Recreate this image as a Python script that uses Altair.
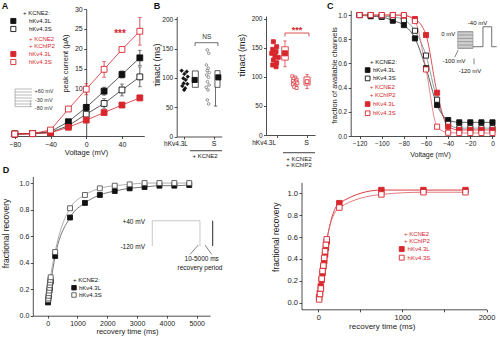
import altair as alt
import pandas as pd

FONT = "Liberation Sans"
RED = "#d7262c"
INK = "#111111"
DARK = "#333333"
GREY = "#8a8a8a"
LIGHT = "#b0b0b0"
TEAL = "#5e8f90"

# ---------------- Panel A: peak current (uA) vs voltage (mV) ----------------
A_voltage = [-80, -60, -40, -20, 0, 20, 40, 60]
A_L_kcne2 = [-1.5, -1.4, -0.9, 1.6, 5.2, 9.3, 13.5, 17.7]
A_L_kcne2_sem = [0.1, 0.1, 0.2, 0.4, 0.8, 1.0, 0.9, 1.9]
A_S_kcne2 = [-1.5, -1.4, -1.1, 0.6, 3.5, 6.2, 9.6, 12.9]
A_S_kcne2_sem = [0.1, 0.1, 0.2, 0.4, 0.7, 1.2, 1.5, 2.5]
A_L_kchip2 = [-1.5, -1.4, -1.2, 0.2, 2.0, 3.9, 5.8, 7.6]
A_L_kchip2_sem = [0.1, 0.1, 0.1, 0.2, 0.3, 0.5, 0.6, 0.7]
A_S_kchip2 = [-1.5, -1.4, -0.5, 4.8, 9.8, 14.8, 19.8, 24.4]
A_S_kchip2_sem = [0.1, 0.1, 0.3, 0.6, 1.4, 2.0, 0.4, 3.5]
A_protocol_levels = [9.84, 9.09, 8.33, 7.57, 6.82, 6.06]
A_protocol_labels = ["+60 mV", "-30 mV", "-80 mV"]

# ---------------- Panel B: tau inact (ms) ----------------
B1_L_pos = [0.44, 0.89, 0.68, 0.98, 0.59, 0.80, 0.62, 0.95, 0.50, 0.75, 0.66]
B1_L_tau = [112.5, 110.8, 106.8, 102.2, 99.5, 96.6, 90.9, 89.7, 86.3, 82.4, 79.5]
B1_S_pos = [2.72, 2.85, 2.64, 2.80, 2.70, 2.90, 2.66, 2.82, 2.74, 2.88, 2.62, 2.78, 2.72, 2.84]
B1_S_tau = [147.9, 142.2, 122.2, 116.6, 112.5, 109.1, 105.1, 101.2, 93.7, 88.0, 84.1, 79.5, 62.4, 55.6]
B1_box_x1 = [1.39, 3.40]
B1_box_x2 = [1.92, 3.85]
B1_box_q1 = [84, 84]
B1_box_q3 = [112, 112.5]
B1_mean_pos = [1.60, 3.70]
B1_mean_tau = [96.6, 101.0]

B2_L_pos = [0.60, 0.87, 0.55, 0.82, 0.47, 0.73, 1.00, 0.60, 0.87, 0.55, 0.82]
B2_L_tau = [160.7, 152.1, 147.6, 143.5, 140.7, 136.1, 133.8, 129.2, 124.5, 120.6, 117.6]
B2_S_pos = [2.15, 2.40, 2.25, 2.50, 2.20, 2.45, 2.30, 2.55, 2.20, 2.40, 2.30, 2.50]
B2_S_tau = [101, 99, 97, 95, 93, 92, 90, 89, 87, 85, 83, 81]
B2_box_x1 = [1.28, 3.10]
B2_box_x2 = [1.82, 3.60]
B2_box_q1 = [129, 86]
B2_box_q3 = [152, 100]
B2_whisk_lo = [117.6, 80]
B2_whisk_hi = [162, 104]
B2_mean_tau = [140.7, 92]

# ---------------- Panel C: fraction of available channels ----------------
C_voltage = [-120, -110, -100, -90, -80, -70, -60, -50, -40, -30, -20, -10, 0]
C_L_kcne2 = [1.0, 0.99, 0.985, 0.953, 0.917, 0.807, 0.56, 0.256, 0.132, 0.113, 0.113, 0.113, 0.113]
C_S_kcne2 = [1.0, 1.0, 0.99, 0.985, 0.96, 0.87, 0.665, 0.30, 0.10, 0.065, 0.065, 0.065, 0.065]
C_L_kchip2 = [1.0, 1.0, 1.0, 1.0, 0.995, 0.967, 0.835, 0.358, 0.077, 0.05, 0.05, 0.05, 0.05]
C_S_kchip2 = [1.0, 1.0, 1.0, 1.0, 1.0, 0.95, 0.55, 0.077, 0.027, 0.025, 0.025, 0.025, 0.025]
C_protocol_levels = [0.862, 0.835, 0.807, 0.780, 0.752, 0.725]

# ---------------- Panel D: fractional recovery ----------------
D1_time = [10, 20, 30, 40, 50, 60, 70, 80, 90, 100, 250, 750, 1250, 1750, 2250, 2750, 3250, 3750, 4250, 4750]
D1_L_kcne2 = [0.10, 0.12, 0.14, 0.16, 0.18, 0.19, 0.21, 0.23, 0.25, 0.26, 0.45, 0.74, 0.85, 0.91, 0.94, 0.96, 0.97, 0.98, 0.98, 0.985]
D1_S_kcne2 = [0.12, 0.13, 0.15, 0.17, 0.19, 0.21, 0.23, 0.25, 0.27, 0.29, 0.48, 0.81, 0.91, 0.96, 0.98, 0.99, 1.0, 1.0, 1.0, 1.0]
D2_time = [10, 20, 30, 40, 50, 60, 70, 80, 90, 100, 250, 750, 1250, 1750]
D2_L_kchip2 = [0.05, 0.09, 0.15, 0.21, 0.27, 0.33, 0.38, 0.44, 0.50, 0.56, 0.91, 1.03, 1.03, 1.03]
D2_S_kchip2 = [0.03, 0.08, 0.13, 0.22, 0.29, 0.34, 0.41, 0.47, 0.53, 0.58, 0.87, 0.99, 1.01, 1.01]

# ---------------- layout (pixel ranges of each panel's plot area) ----------------
PANEL = {
    "A":  {"x": [-85, 65],    "xr": [10.3, 144.3],  "y": [-2, 30],      "yr": [136, 9]},
    "B1": {"x": [0, 4],       "xr": [176.7, 221.7], "y": [0, 205],      "yr": [136.5, 16.5]},
    "B2": {"x": [0, 4],       "xr": [266, 315],     "y": [0, 205],      "yr": [135, 16]},
    "C":  {"x": [-128, 2],    "xr": [350.7, 494.7], "y": [0, 1.04],     "yr": [136, 10.2]},
    "D1": {"x": [-500, 5450], "xr": [32.8, 210.1],  "y": [0, 1.05],     "yr": [315.7, 176.4]},
    "D2": {"x": [-200, 2000], "xr": [301.5, 486.5], "y": [-0.06, 1.1],  "yr": [309.3, 182.4]},
}
W, H = 500, 341

layers = []


def enc(p, xaxis=None, yaxis=None):
    g = PANEL[p]
    xs = alt.Scale(domain=g["x"], range=g["xr"], nice=False, zero=False)
    ys = alt.Scale(domain=g["y"], range=g["yr"], nice=False, zero=False)
    return dict(x=alt.X("x:Q", scale=xs, axis=xaxis), y=alt.Y("y:Q", scale=ys, axis=yaxis))


def axes(p, xaxis, yaxis):
    g = PANEL[p]
    df = pd.DataFrame({"x": [g["x"][0]], "y": [g["y"][0]]})
    layers.append(alt.Chart(df).mark_point(opacity=0).encode(**enc(p, xaxis, yaxis)))


def line(p, xs, ys, color, width=0.8, interp="linear"):
    df = pd.DataFrame({"x": xs, "y": ys})
    layers.append(alt.Chart(df).mark_line(color=color, strokeWidth=width, interpolate=interp).encode(**enc(p)))


def points(p, xs, ys, color, filled, size, shape="square", sw=0.9):
    df = pd.DataFrame({"x": xs, "y": ys})
    layers.append(
        alt.Chart(df).mark_point(shape=shape, size=size, filled=True, opacity=1,
                                 fill=color if filled else "white", stroke=color, strokeWidth=sw)
        .encode(**enc(p)))


def segs(p, x1, y1, x2, y2, color, width=0.8):
    df = pd.DataFrame({"x": x1, "y": y1, "x2": x2, "y2": y2})
    layers.append(alt.Chart(df).mark_rule(color=color, strokeWidth=width)
                  .encode(**enc(p), x2="x2:Q", y2="y2:Q"))


def rects(p, x1, y1, x2, y2, stroke, fill="white", fop=0.0, width=0.8):
    df = pd.DataFrame({"x": x1, "y": y1, "x2": x2, "y2": y2})
    layers.append(alt.Chart(df).mark_rect(fill=fill, fillOpacity=fop, stroke=stroke, strokeWidth=width)
                  .encode(**enc(p), x2="x2:Q", y2="y2:Q"))


def errbars(p, xs, ys, es, color, cap=4):
    lo = [y - e for y, e in zip(ys, es)]
    hi = [y + e for y, e in zip(ys, es)]
    segs(p, xs, lo, xs, hi, color, 0.8)
    df = pd.DataFrame({"x": xs + xs, "y": lo + hi})
    layers.append(alt.Chart(df).mark_tick(orient="horizontal", size=cap, thickness=0.8, color=color)
                  .encode(**enc(p)))


def texts(p, xs, ys, labels, color, size=6, align="left", weight="normal", baseline="middle"):
    df = pd.DataFrame({"x": xs, "y": ys, "t": labels})
    layers.append(alt.Chart(df).mark_text(font=FONT, fontSize=size, color=color, align=align,
                                          baseline=baseline, fontWeight=weight)
                  .encode(**enc(p), text="t:N"))


def xaxis(p, values, title="", titleX=0, titleY=0, labels=True, lsize=7, tsize=7.5, labelExpr=None):
    kw = dict(orient="bottom", offset=PANEL[p]["yr"][0] - H, values=values, title=title,
              titleX=titleX, titleY=titleY, labels=labels, labelFontSize=lsize, titleFontSize=tsize,
              format="d")
    if labelExpr:
        kw["labelExpr"] = labelExpr
    return alt.Axis(**kw)


def yaxis(p, values, title, titleX, titleY, offset=None, lsize=7, tsize=7.5, fmt="d"):
    kw = dict(orient="left", offset=-PANEL[p]["xr"][0] if offset is None else offset, values=values,
              title=title, titleX=titleX, titleY=titleY, labelFontSize=lsize, titleFontSize=tsize,
              format=fmt)
    return alt.Axis(**kw)


# ======================= Panel A =======================
axes("A",
     xaxis("A", [-80, -40, 0, 40], "Voltage (mV)", 86, 16.5),
     yaxis("A", [10, 15, 20, 25, 30], "peak current (μA)", -21.2, 63, offset=-86.2))
A_series = [
    (A_S_kcne2, A_S_kcne2_sem, DARK, False),
    (A_L_kcne2, A_L_kcne2_sem, DARK, True),
    (A_L_kchip2, A_L_kchip2_sem, RED, True),
    (A_S_kchip2, A_S_kchip2_sem, RED, False),
]
for vals, sem, col, filled in A_series:
    line("A", A_voltage, vals, col, 0.8)
    errbars("A", A_voltage, vals, sem, col)
for vals, sem, col, filled in A_series:
    points("A", A_voltage, vals, INK if col == DARK else RED, filled, 34)
texts("A", [37.8], [23.6], ["***"], RED, size=10, align="center", weight="bold")
texts("A", [-91], [30.8], ["A"], INK, size=9, align="center", weight="bold")
# legend
texts("A", [-70.8, -64.1, -64.1], [28.9, 26.97, 24.96], ["+ KCNE2:", "hKv4.3L", "hKv4.3S"], INK)
texts("A", [-64.1, -64.1, -64.1, -64.1], [22.44, 20.68, 18.66, 16.64],
      ["+ KCNE2", "+ KChIP2", "hKv4.3L", "hKv4.3S"], RED)
points("A", [-81.6], [26.97], INK, True, 26)
points("A", [-81.6], [24.96], INK, False, 26)
points("A", [-81.6], [18.66], RED, True, 26)
points("A", [-81.6], [16.64], RED, False, 26)
# voltage protocol inset
n = len(A_protocol_levels)
segs("A", [-79.7] * n, A_protocol_levels, [-60.7] * n, A_protocol_levels, GREY, 0.6)
segs("A", [-79.7, -79.7], [5.4, 5.4], [-79.7, -60.7], [9.84, 5.4], GREY, 0.6)
segs("A", [-62.5], [6.9], [-62.5], [5.4], GREY, 0.6)
texts("A", [-58.0, -57.5, -57.5], [9.4, 7.1, 5.0], A_protocol_labels, DARK, size=5.5)

# ======================= Panel B1 =======================
axes("B1",
     xaxis("B1", [0.65, 3.32], labels=False),
     yaxis("B1", [0, 50, 100, 150, 200], "τinact (ms)", -20.7, 64.5, lsize=6.5, tsize=9))
points("B1", B1_L_pos, B1_L_tau, INK, True, 14, shape="diamond", sw=0.5)
points("B1", B1_S_pos, B1_S_tau, "#555555", False, 7, shape="circle", sw=0.6)
rects("B1", B1_box_x1, B1_box_q1, B1_box_x2, B1_box_q3, DARK)
segs("B1", [3.45, 3.30], [84, 52], [3.45, 3.60], [52, 52], DARK, 0.7)
points("B1", B1_mean_pos, B1_mean_tau, INK, True, 26)
segs("B1", [1.63, 1.63, 3.67], [160.2, 154.6, 154.6], [3.67, 1.63, 3.67], [160.2, 160.2, 160.2], DARK, 0.7)
texts("B1", [2.67], [169.5], ["NS"], DARK, size=6.5, align="center")
texts("B1", [1.0], [-12.5], ["hKv4.3L"], INK, size=6.5, align="right")
texts("B1", [3.32], [-12.5], ["S"], INK, size=7, align="center")
segs("B1", [1.18], [-24.3], [4.03], [-24.3], INK, 0.8)
texts("B1", [2.52], [-33.3], ["+ KCNE2"], INK, size=6, align="center")
texts("B1", [-1.75], [223], ["B"], INK, size=9, align="center", weight="bold")

# ======================= Panel B2 =======================
axes("B2",
     xaxis("B2", [0.9, 3.32], labels=False),
     yaxis("B2", [0, 50, 100, 150, 200], "τinact (ms)", -25, 55, lsize=6.5, tsize=9))
points("B2", B2_L_pos, B2_L_tau, RED, True, 16)
points("B2", B2_S_pos, B2_S_tau, RED, False, 9, sw=0.7)
rects("B2", B2_box_x1, B2_box_q1, B2_box_x2, B2_box_q3, RED)
B2_mid = [1.55, 3.35]
segs("B2", B2_mid, B2_whisk_lo, B2_mid, B2_box_q1, RED, 0.7)
segs("B2", B2_mid, B2_box_q3, B2_mid, B2_whisk_hi, RED, 0.7)
segs("B2", [1.42, 1.42, 3.22, 3.22], B2_whisk_lo[:1] + B2_whisk_hi[:1] + B2_whisk_lo[1:] + B2_whisk_hi[1:],
     [1.68, 1.68, 3.48, 3.48], B2_whisk_lo[:1] + B2_whisk_hi[:1] + B2_whisk_lo[1:] + B2_whisk_hi[1:], RED, 0.7)
points("B2", B2_mid[:1], B2_mean_tau[:1], RED, True, 26)
points("B2", B2_mid[1:], B2_mean_tau[1:], RED, False, 14)
segs("B2", [1.55, 1.55, 3.51], [175.7, 169.7, 169.7], [3.51, 1.55, 3.51], [175.7, 175.7, 175.7], RED, 0.8)
texts("B2", [2.53], [181.0], ["***"], RED, size=9, align="center", weight="bold")
texts("B2", [0.82], [-14.3], ["hKv4.3L"], INK, size=6.5, align="right")
texts("B2", [3.32], [-14.3], ["S"], INK, size=7, align="center")
segs("B2", [1.39], [-30.5], [4.0], [-30.5], INK, 0.8)
texts("B2", [2.69, 2.69], [-40.5, -52.5], ["+ KCNE2", "+ KChIP2"], INK, size=6, align="center")

# ======================= Panel C =======================
axes("C",
     xaxis("C", [-120, -100, -80, -60, -40, -20, 0], "Voltage (mV)", 430, 18.5, lsize=6.5, tsize=7),
     yaxis("C", [0, 0.2, 0.4, 0.6, 0.8, 1.0], "fraction of available channels", -16.7, 75,
           lsize=6.5, tsize=7.5, fmt=".1f"))
line("C", C_voltage, C_L_kcne2, DARK, 0.8, "monotone")
line("C", C_voltage, C_S_kcne2, TEAL, 0.8, "monotone")
line("C", C_voltage, C_L_kchip2, RED, 0.8, "monotone")
line("C", C_voltage, C_S_kchip2, "#e06a70", 0.8, "monotone")
points("C", C_voltage, C_L_kcne2, INK, True, 26)
points("C", C_voltage, C_S_kcne2, INK, False, 26)
points("C", C_voltage, C_L_kchip2, RED, True, 26)
points("C", C_voltage, C_S_kchip2, RED, False, 26)
texts("C", [-146.5], [1.075], ["C"], INK, size=9, align="center", weight="bold")
texts("C", [-110.6, -107.9, -107.9], [0.614, 0.545, 0.476], ["+ KCNE2:", "hKv4.3L", "hKv4.3S"], INK)
texts("C", [-110.8, -110.8, -107.9, -107.9], [0.402, 0.339, 0.264, 0.188],
      ["+ KCNE2", "+ KChIP2", "hKv4.3L", "hKv4.3S"], RED)
points("C", [-112.7], [0.545], INK, True, 22)
points("C", [-112.7], [0.476], INK, False, 22)
points("C", [-112.7], [0.264], RED, True, 22)
points("C", [-112.7], [0.188], RED, False, 22)
# protocol inset
rects("C", [-31.4], [0.725], [-17.6], [0.862], GREY, fill="#cfcfcf", fop=1.0, width=0.6)
m = len(C_protocol_levels)
segs("C", [-31.4] * m, C_protocol_levels, [-17.6] * m, C_protocol_levels, "#777777", 0.6)
segs("C", [-17.6, -8.6, -8.6, -0.7, -0.7],
     [0.738, 0.738, 0.903, 0.903, 0.738],
     [-8.6, -8.6, -0.7, -0.7, 3.8],
     [0.738, 0.903, 0.903, 0.738, 0.738], DARK, 0.7)
segs("C", [-34.0, -16.7], [0.652, 0.642], [-31.0, -16.7], [0.712, 0.592], DARK, 0.6)
texts("C", [-33.5], [0.843], ["0 mV"], INK, size=6, align="right")
texts("C", [-13.5, -34.7, -20.3], [0.931, 0.62, 0.54], ["-40 mV", "-100 mV", "-120 mV"], INK,
      size=6, align="center")

# ======================= Panel D1 =======================
axes("D1",
     xaxis("D1", [0, 1000, 2000, 3000, 4000, 5000], "recovery time (ms)", 127, 16, lsize=7, tsize=7.5),
     yaxis("D1", [0, 0.2, 0.4, 0.6, 0.8, 1.0], "fractional recovery", -27.8, 233, lsize=7, tsize=8.5,
           fmt=".1f"))
line("D1", D1_time, D1_L_kcne2, "#555555", 0.8, "monotone")
line("D1", D1_time, D1_S_kcne2, "#9a9a9a", 0.8, "monotone")
points("D1", D1_time, D1_L_kcne2, INK, True, 24)
points("D1", D1_time, D1_S_kcne2, "#555555", False, 24)
texts("D1", [-1400], [1.1], ["D"], INK, size=9, align="center", weight="bold")
texts("D1", [849, 1050, 1050], [0.269, 0.211, 0.156], ["+ KCNE2:", "hKv4.3L", "hKv4.3S"], INK)
points("D1", [883], [0.211], INK, True, 20)
points("D1", [883], [0.156], "#555555", False, 20)
# protocol inset
segs("D1", [3510, 3510, 5111], [0.525, 0.716, 0.716], [3510, 5111, 5111], [0.716, 0.716, 0.525], LIGHT, 0.7)
segs("D1", [5537], [0.525], [5537], [0.716], INK, 0.9)
segs("D1", [4782, 5279], [0.463, 0.533], [5054, 5503], [0.533, 0.463], DARK, 0.6)
texts("D1", [3265, 3265], [0.704, 0.52], ["+40 mV", "-120 mV"], INK, size=6.5, align="right")
texts("D1", [5168, 5111], [0.425, 0.357], ["10-5000 ms", "recovery period"], INK, size=6.5, align="center")

# ======================= Panel D2 =======================
axes("D2",
     xaxis("D2", [0, 500, 1000, 1500, 2000], "recovery time (ms)", 381.7, 17, lsize=7.5, tsize=8,
           labelExpr="datum.value % 1000 == 0 ? datum.label : ''"),
     yaxis("D2", [0, 0.2, 0.4, 0.6, 0.8, 1.0], "fractional recovery", -26.5, 236.7, lsize=7.5, tsize=8.5,
           fmt=".1f"))
line("D2", D2_time, D2_L_kchip2, RED, 0.9, "monotone")
line("D2", D2_time, D2_S_kchip2, "#e06a70", 0.9, "monotone")
points("D2", D2_time, D2_L_kchip2, RED, True, 30)
points("D2", D2_time, D2_S_kchip2, RED, False, 30)
texts("D2", [1019, 1019], [0.626, 0.564], ["+ KCNE2", "+ KChIP2"], RED)
texts("D2", [1061, 1061], [0.491, 0.412], ["hKv4.3L", "hKv4.3S"], RED)
points("D2", [992], [0.491], RED, True, 24)
points("D2", [992], [0.412], RED, False, 24)

chart = (
    alt.layer(*layers)
    .resolve_scale(x="independent", y="independent")
    .properties(width=W, height=H, padding=0, autosize=alt.AutoSizeParams(type="none"),
                background="white")
    .configure_view(stroke=None)
    .configure_axis(grid=False, labelFont=FONT, titleFont=FONT, titleFontWeight="normal",
                    labelColor="#222222", titleColor="#222222", domainColor="#222222",
                    tickColor="#222222", domainWidth=0.8, tickWidth=0.8, tickSize=2.5,
                    labelPadding=1.5, titleBaseline="middle", labelFlush=False)
)
chart.save("out.html", embed_options={"renderer": "svg", "actions": False})
